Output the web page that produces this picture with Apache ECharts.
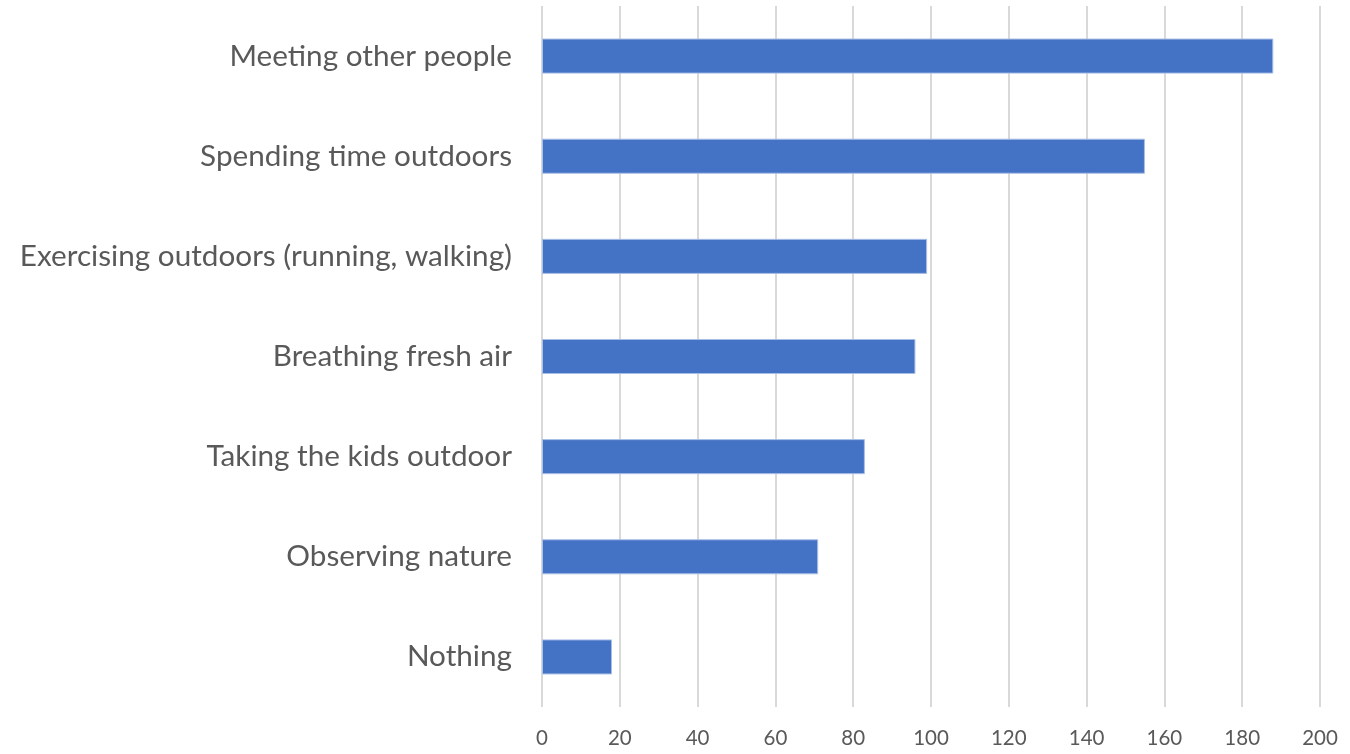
<!DOCTYPE html>
<html><head><meta charset="utf-8">
<script src="https://cdn.jsdelivr.net/npm/echarts@6/dist/echarts.min.js"></script>
<style>html,body{margin:0;padding:0;background:#fff}#c{width:1350px;height:754px}</style>
</head><body><div id="c"></div>
<script>
const categories = ["Nothing","Observing nature","Taking the kids outdoor","Breathing fresh air","Exercising outdoors (running, walking)","Spending time outdoors","Meeting other people"];
const values = [18,71,83,96,99,155,188];
const chart = echarts.init(document.getElementById('c'));
chart.setOption({
  animation:false,
  grid:{left:542,right:30,top:6,bottom:47,containLabel:false},
  xAxis:{type:'value',min:0,max:200,interval:20,
    axisLine:{show:false},axisTick:{show:false},
    splitLine:{lineStyle:{color:'#d9d9d9',width:2}},
    axisLabel:{color:'#595959',fontSize:20.5,fontFamily:'Lato',margin:21}},
  yAxis:{type:'category',data:categories,
    axisLine:{show:false},axisTick:{show:false},
    axisLabel:{color:'#595959',fontSize:29.7,fontFamily:'Lato',margin:30}},
  series:[{type:'bar',data:values,barCategoryGap:'65%',
    itemStyle:{color:'#4472C4',borderColor:'#a9bfe6',borderWidth:1}}]
});
</script></body></html>
